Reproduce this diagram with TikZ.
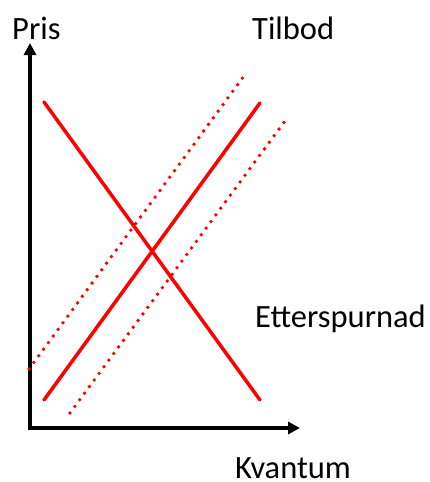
\documentclass[tikz,border=0pt]{standalone}
\usepackage{fontspec}
\setmainfont{Carlito}
\usetikzlibrary{arrows.meta}
\begin{document}
\begin{tikzpicture}[x=1pt,y=-1pt,
  axis/.style={line width=4pt,black,-{Triangle[length=12pt,width=12pt]}},
  curve/.style={line width=3.5pt,red,line cap=round},
  dotcurve/.style={line width=3.8pt,red,line cap=round,dash pattern=on 0pt off 8.2pt},
  lbl/.style={anchor=base west,inner sep=0pt,font=\fontsize{32.5}{33}\selectfont}]
\useasboundingbox (0,0) rectangle (430,482);
\coordinate (o) at (30,428);
\coordinate (ytop) at (30,43);
\coordinate (xend) at (300,428);
\draw[axis] (o) -- (ytop);
\draw[axis] (28,428) -- (xend);
\coordinate (d1) at (44,102);
\coordinate (d2) at (260,400);
\coordinate (s1) at (44,400);
\coordinate (s2) at (260,103);
\coordinate (u1) at (29,369);
\coordinate (u2) at (244,76);
\coordinate (l1) at (70,413);
\coordinate (l2) at (285,121);
\draw[curve] (d1) -- (d2);
\draw[curve] (s1) -- (s2);
\draw[dotcurve] (u1) -- (u2);
\draw[dotcurve] (l1) -- (l2);
\node[lbl] (pris) at (12,39) {Pris};
\node[lbl] (tilbod) at (252,39) {Tilbod};
\node[lbl] (etter) at (255,327) {Etterspurnad};
\node[lbl,text depth=0pt] (kvant) at (235,478) {Kvantum};
\end{tikzpicture}
\end{document}
